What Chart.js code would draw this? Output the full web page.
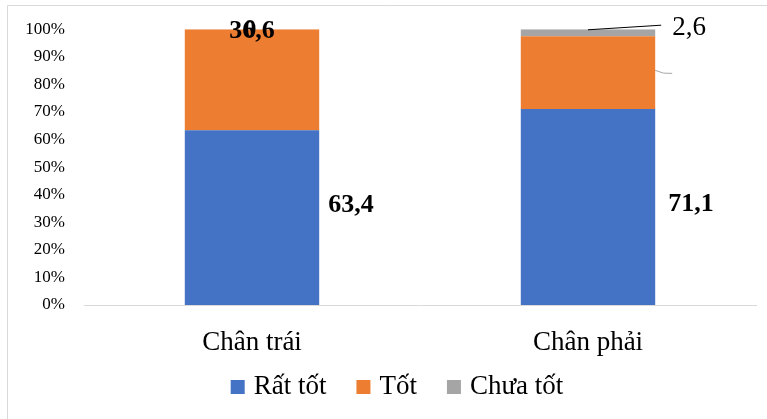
<!DOCTYPE html>
<html>
<head>
<meta charset="utf-8">
<script src="https://cdn.jsdelivr.net/npm/chart.js@4/dist/chart.umd.min.js"></script>
<style>
  html, body { margin: 0; padding: 0; background: #fff; }
  #wrap { width: 767px; height: 419px; }
</style>
</head>
<body>
<div id="wrap"><canvas id="chart"></canvas></div>
<script>
var categories = ['Chân trái', 'Chân phải'];
var ratTot     = [63.4, 71.1];
var tot        = [36.6, 26.3];
var chuaTot    = [0, 2.6];
var yTicks     = [0, 10, 20, 30, 40, 50, 60, 70, 80, 90, 100];

var SERIF = '"Liberation Serif", "Times New Roman", serif';

function fmt(v) {
    return v === 0 ? '0' : v.toFixed(1).replace('.', ',');
}

// frame around the chart
var framePlugin = {
    id: 'frame',
    beforeDraw: function(chart) {
        var ctx = chart.ctx;
        ctx.save();
        ctx.strokeStyle = '#d9d9d9';
        ctx.lineWidth = 1;
        ctx.beginPath();
        ctx.moveTo(7.5, chart.height);
        ctx.lineTo(7.5, 5.5);
        ctx.lineTo(chart.width, 5.5);
        ctx.stroke();
        ctx.restore();
    }
};

// legend drawn by hand so spacing matches the sheet
var legendPlugin = {
    id: 'myLegend',
    afterDraw: function(chart) {
        var ctx = chart.ctx;
        var ds = chart.data.datasets;
        ctx.save();
        ctx.font = '27px ' + SERIF;
        ctx.textBaseline = 'middle';
        ctx.textAlign = 'left';
        var box = 14, gap = 9, between = 30;
        var total = 0;
        ds.forEach(function(d, i) {
            total += box + gap + ctx.measureText(d.label).width + (i ? between : 0);
        });
        var x = 397 - total / 2, y = 387;
        ds.forEach(function(d) {
            ctx.fillStyle = d.backgroundColor;
            ctx.fillRect(x, y - box / 2, box, box);
            x += box + gap;
            ctx.fillStyle = '#000';
            ctx.fillText(d.label, x, y);
            x += ctx.measureText(d.label).width + between;
        });
        ctx.restore();
    }
};

// data labels, placed like in the source sheet
var labelPlugin = {
    id: 'labels',
    afterDatasetsDraw: function(chart) {
        var ctx = chart.ctx;
        var m0 = chart.getDatasetMeta(0).data;
        var m1 = chart.getDatasetMeta(1).data;
        var m2 = chart.getDatasetMeta(2).data;
        ctx.save();
        ctx.fillStyle = '#000';
        ctx.textBaseline = 'middle';

        // Rất tốt: right of the bar
        ctx.font = 'bold 26px ' + SERIF;
        ctx.textAlign = 'left';
        var dx = [9, 13], dy = [-12, -3];
        for (var i = 0; i < categories.length; i++) {
            var b = m0[i];
            var right = b.x + b.width / 2;
            var mid = (b.y + b.base) / 2;
            ctx.fillText(fmt(ratTot[i]), right + dx[i], mid + dy[i]);
        }

        // Tốt on left bar and Chưa tốt 0 on top of it (overlapping)
        ctx.textAlign = 'center';
        var t = m1[0];
        ctx.fillText(fmt(tot[0]), t.x, t.y + 2);
        var c = m2[0];
        ctx.fillText(fmt(chuaTot[0]), c.x - 2, c.y + 1);

        // Chưa tốt on right bar with leader line
        var g = m2[1];
        ctx.strokeStyle = '#000';
        ctx.lineWidth = 1;
        ctx.beginPath();
        ctx.moveTo(g.x, (g.y + g.base) / 2 - 3);
        ctx.lineTo(g.x + g.width / 2 + 6, g.y - 4);
        ctx.stroke();
        ctx.font = '27px ' + SERIF;
        ctx.textAlign = 'left';
        ctx.fillText(fmt(chuaTot[1]), g.x + g.width / 2 + 17, g.y - 1);

        // leftover leader of the orange segment on right bar
        var o = m1[1];
        ctx.strokeStyle = '#a6a6a6';
        ctx.beginPath();
        ctx.moveTo(o.x + o.width / 2, o.y + 34);
        ctx.quadraticCurveTo(o.x + o.width / 2 + 8, o.y + 38, o.x + o.width / 2 + 17, o.y + 37);
        ctx.stroke();
        ctx.restore();
    }
};

new Chart(document.getElementById('chart').getContext('2d'), {
    type: 'bar',
    data: {
        labels: categories,
        datasets: [
            { label: 'Rất tốt',  data: ratTot,  backgroundColor: '#4472C4' },
            { label: 'Tốt',      data: tot,     backgroundColor: '#ED7D31' },
            { label: 'Chưa tốt', data: chuaTot, backgroundColor: '#A5A5A5' }
        ]
    },
    options: {
        responsive: true,
        maintainAspectRatio: false,
        animation: false,
        barPercentage: 0.4,
        categoryPercentage: 1.0,
        layout: { padding: { left: 10, right: 11, top: 27, bottom: 52 } },
        plugins: {
            legend: { display: false },
            tooltip: { enabled: false }
        },
        scales: {
            x: {
                stacked: true,
                grid: { display: false },
                border: { display: true, color: '#d9d9d9' },
                ticks: { color: '#000', padding: 14, font: { family: SERIF, size: 27 } },
                afterFit: function(s) { s.height = 62; }
            },
            y: {
                stacked: true,
                min: 0,
                max: 100,
                grid: { display: false, drawTicks: false },
                border: { display: false },
                afterBuildTicks: function(s) { s.ticks = yTicks.map(function(v) { return { value: v }; }); },
                ticks: {
                    color: '#000',
                    padding: 19,
                    font: { family: SERIF, size: 17 },
                    callback: function(v) { return v + '%'; }
                },
                afterFit: function(s) { s.width = 74; }
            }
        }
    },
    plugins: [framePlugin, labelPlugin, legendPlugin]
});
</script>
</body>
</html>
